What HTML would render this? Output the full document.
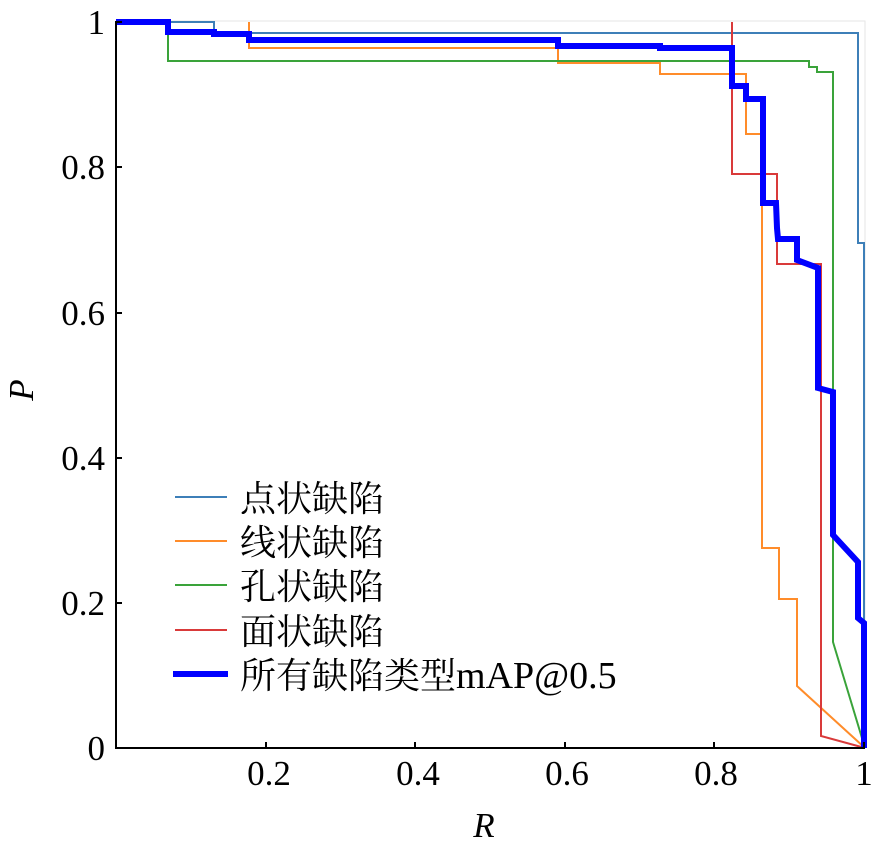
<!DOCTYPE html>
<html><head><meta charset="utf-8"><style>
html,body{margin:0;padding:0;background:#fff;}
svg{display:block;}
text{font-family:"Liberation Serif","Noto Serif CJK SC",serif;fill:#000;}
</style></head><body>
<svg width="879" height="844" viewBox="0 0 879 844" xmlns="http://www.w3.org/2000/svg">
<rect x="116" y="21" width="749" height="727" fill="none" stroke="#e6e6e6" stroke-width="1"/>
<g fill="none" stroke-linejoin="miter">
<polyline stroke="#3d7fb8" stroke-width="2" points="116,22 214,22 214,33 858,33 858,243 864,243 864,748"/>
<polyline stroke="#ff8c2a" stroke-width="2" points="249,22 249,48 558,48 558,63 660,63 660,74 746,74 746,134 762,134 762,548 779,548 779,599 797,599 797,686 865,748"/>
<polyline stroke="#3aa33a" stroke-width="2" points="168,22 168,61 809,61 809,67 817,67 817,72 833,72 833,642 865,748"/>
<polyline stroke="#d93a3a" stroke-width="2" points="732,22 732,174 777,174 777,264 821,264 821,736 865,748"/>
<polyline stroke="#0000ff" stroke-width="6" points="116,22 168,22 168,32 214,32 214,34 249,34 249,40 558,40 558,46 660,46 660,48 732,48 732,86 746,86 746,99 763,99 763,203 776,203 777,228 778,239 797,239 797,260 818,268 818,388 833,392 833,535 858,562 858,618 864,623 864,748"/>
</g>
<path d="M116,21 V748 H865" fill="none" stroke="#000" stroke-width="2"/>
<g stroke="#000" stroke-width="2">
<line x1="266" y1="748" x2="266" y2="742"/><line x1="415" y1="748" x2="415" y2="742"/><line x1="565" y1="748" x2="565" y2="742"/><line x1="714" y1="748" x2="714" y2="742"/><line x1="864" y1="748" x2="864" y2="742"/>
<line x1="116" y1="22" x2="122" y2="22"/><line x1="116" y1="167" x2="122" y2="167"/><line x1="116" y1="313" x2="122" y2="313"/><line x1="116" y1="458" x2="122" y2="458"/><line x1="116" y1="603" x2="122" y2="603"/>
</g>
<g font-size="35" text-anchor="middle">
<text x="269" y="785">0.2</text><text x="418" y="785">0.4</text><text x="567" y="785">0.6</text><text x="716" y="785">0.8</text><text x="864" y="785">1</text>
</g>
<g font-size="35" text-anchor="end">
<text x="105" y="34">1</text><text x="105" y="179">0.8</text><text x="105" y="325">0.6</text><text x="105" y="470">0.4</text><text x="105" y="615">0.2</text><text x="105" y="760">0</text>
</g>
<text x="484" y="837" font-size="35" font-style="italic" text-anchor="middle">R</text>
<text transform="translate(33,390) rotate(-90)" font-size="35" font-style="italic" text-anchor="middle">P</text>
<g stroke-width="2">
<line x1="175" y1="497" x2="227" y2="497" stroke="#3d7fb8"/>
<line x1="175" y1="541" x2="227" y2="541" stroke="#ff8c2a"/>
<line x1="175" y1="585" x2="227" y2="585" stroke="#3aa33a"/>
<line x1="175" y1="630" x2="227" y2="630" stroke="#d93a3a"/>
<line x1="173" y1="674" x2="228" y2="674" stroke="#0000ff" stroke-width="6"/>
</g>
<g font-size="36">
<text x="240" y="511">点状缺陷</text>
<text x="240" y="555">线状缺陷</text>
<text x="240" y="599">孔状缺陷</text>
<text x="240" y="644">面状缺陷</text>
<text x="240" y="688">所有缺陷类型<tspan font-size="38">mAP@0.5</tspan></text>
</g>
</svg>
</body></html>
